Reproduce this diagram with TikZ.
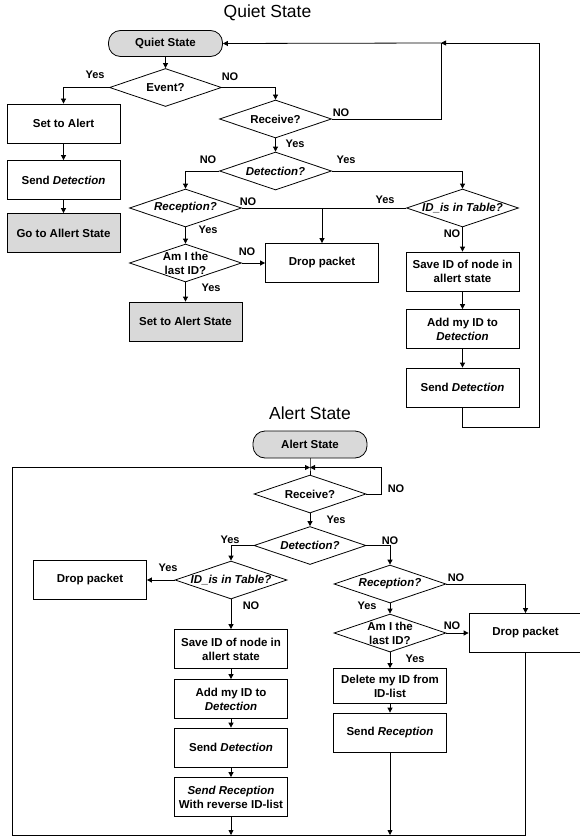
\documentclass[tikz,border=0pt]{standalone}
\usepackage{fontspec}
\setmainfont{Liberation Sans}
\usepackage{xcolor}
\usepackage{tikz}
\usetikzlibrary{arrows.meta, positioning, calc, shapes.geometric}
\definecolor{shade}{RGB}{217,217,217}

\begin{document}
\begin{tikzpicture}[x=1pt, y=-1pt, line width=0.8pt,
  box/.style={draw, rectangle, minimum width=113pt, minimum height=39pt,
    inner sep=1pt, align=center, font=\fontsize{11.5pt}{14pt}\selectfont\bfseries},
  term/.style={box, fill=shade, rounded corners=12pt, minimum width=114pt, minimum height=26pt},
  decision/.style={draw, diamond, aspect=2.95, minimum width=112pt, minimum height=38pt,
    inner xsep=-8pt, inner ysep=-3pt, align=center, font=\fontsize{11.5pt}{14pt}\selectfont\bfseries},
  lbl/.style={inner sep=0pt, font=\fontsize{11pt}{13pt}\selectfont\bfseries},
  heading/.style={font=\fontsize{17.5pt}{21pt}\selectfont},
  >={Triangle[length=5pt, width=5pt]}]
  \useasboundingbox (0,0) rectangle (579,837);

  % quiet state
  \node[heading] (qtitle) at (267.5,13) {Quiet State};
  \node[term] (qs) at (165.5,43.5) {Quiet State};
  \node[decision] (ev) at (165.5,87.5) {Event?};
  \node[box] (a1) at (63.5,123.5) {Set to Alert};
  \node[box] (a2) at (63.5,180) {Send \textit{Detection}};
  \node[box, fill=shade] (a3) at (63.5,233) {Go to Allert State};
  \node[decision] (rcv) at (275.5,119) {Receive?};
  \node[decision] (det) at (275.5,171) {\textit{Detection?}};
  \node[decision] (recp) at (185.5,208) {\textit{Reception?}};
  \node[decision] (idt) at (462.5,208) {\textit{ID\_is in Table?}};
  \node[decision] (am) at (185.5,263) {Am I the\\last ID?};
  \node[box] (drop) at (322,263) {Drop packet};
  \node[box, fill=shade] (sas) at (185.5,321.5) {Set to Alert State};
  \node[box] (save) at (462.5,271.5) {Save ID of node in\\allert state};
  \node[box] (add) at (462.5,329) {Add my ID to\\\textit{Detection}};
  \node[box] (sd) at (462.5,387.5) {Send \textit{Detection}};
  \coordinate (jq) at (441,43);
  \coordinate (rq) at (539,427);
  \coordinate (jd) at (322,208);

  \draw[->] (qs) -- (ev);
  \draw[->] (ev.west) -| (a1);
  \draw[->] (ev.east) -| (rcv);
  \foreach \s/\t in {a1/a2,a2/a3,rcv/det,recp/am,am/drop,am/sas,idt/save,save/add,add/sd}
    \draw[->] (\s) -- (\t);
  \draw (rcv.east) -| (jq);
  \draw[->] (jq) -- (qs.east);
  \draw[->] (sd) |- (rq) |- (jq);
  \draw[->] (det.west) -| (recp);
  \draw[->] (det.east) -| (idt);
  \draw (recp.east) -- (idt.west);
  \draw[->] (jd) -- (drop);

  \foreach \n/\x/\y/\t in {q1/95/75/Yes, q2/230/77/NO, q3/341/113/NO, q4/295/144/Yes,
      q5/208/160/NO, q6/346/160/Yes, q7/248/202/NO, q8/385/200/Yes, q9/452/234/NO,
      q10/208/230/Yes, q11/247/252/NO, q12/211/288/Yes}
    \node[lbl] (\n) at (\x,\y) {\t};

  % alert state
  \node[heading] (atitle) at (310,413) {Alert State};
  \node[term, minimum height=27pt] (as) at (310,444.5) {Alert State};
  \node[decision] (rcv2) at (310,494) {Receive?};
  \node[decision] (det2) at (310,545.5) {\textit{Detection?}};
  \node[decision] (idt2) at (231,580) {\textit{ID\_is in Table?}};
  \node[box] (dp1) at (90,580) {Drop packet};
  \node[box] (save2) at (231,649) {Save ID of node in\\allert state};
  \node[box] (add2) at (231,699) {Add my ID to\\\textit{Detection}};
  \node[box] (sd2) at (231,747.5) {Send \textit{Detection}};
  \node[box] (srr) at (231,797) {\textit{Send Reception}\\With reverse ID-list};
  \node[decision] (recp2) at (390,584) {\textit{Reception?}};
  \node[decision] (am2) at (390,633) {Am I the\\last ID?};
  \node[box] (dp2) at (525.5,633) {Drop packet};
  \node[box, minimum height=35pt] (del) at (390,686) {Delete my ID from\\ID-list};
  \node[box] (sr) at (390,732.5) {Send \textit{Reception}};
  \coordinate (ja) at (310,467.5);
  \coordinate (ra) at (381,467.5);
  \coordinate (bl) at (12,835);
  \coordinate (br) at (525.5,835);

  \draw (as) -- (ja) -- (rcv2);
  \draw[->] (rcv2.east) -| (ra) -- (ja);
  \draw[->] (dp2) -- (br) -- (bl) |- (ja);
  \foreach \s/\t in {rcv2/det2,idt2/dp1,idt2/save2,save2/add2,add2/sd2,sd2/srr,
      recp2/am2,am2/dp2,am2/del,del/sr}
    \draw[->] (\s) -- (\t);
  \draw[->] (det2.west) -| (idt2);
  \draw[->] (det2.east) -| (recp2);
  \draw[->] (recp2.east) -| (dp2);
  \draw[->] (srr) -- (srr |- bl);
  \draw[->] (sr) -- (sr |- bl);

  \foreach \n/\x/\y/\t in {b1/396/489/NO, b2/336/520/Yes, b3/230/540/Yes, b4/390/541/NO,
      b5/168/568/Yes, b6/251/606/NO, b7/456/578/NO, b8/367/606/Yes, b9/452/626/NO,
      b10/415/659/Yes}
    \node[lbl] (\n) at (\x,\y) {\t};
\end{tikzpicture}
\end{document}
